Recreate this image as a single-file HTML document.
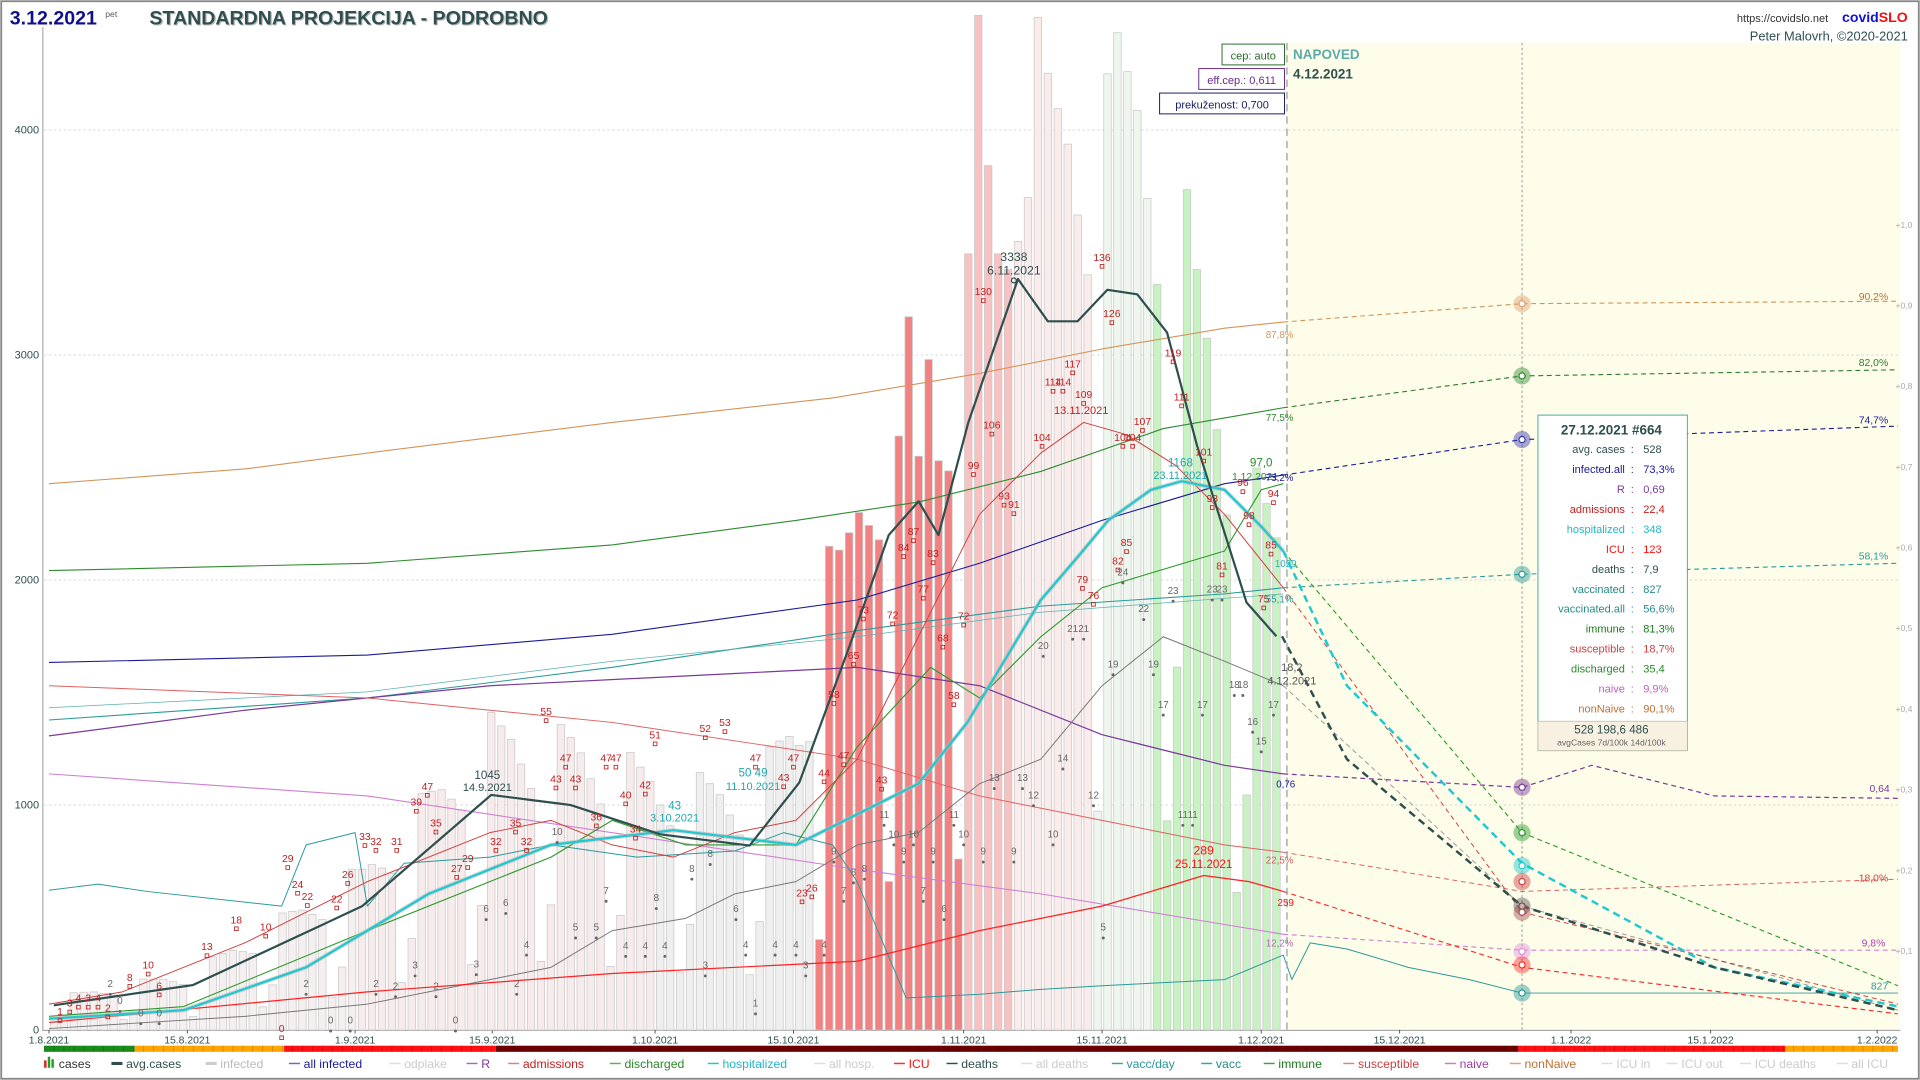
<!DOCTYPE html>
<html><head><meta charset="utf-8"><style>
html,body{margin:0;padding:0;background:#fff;width:1920px;height:1080px;overflow:hidden}
svg{display:block}
text{font-family:"Liberation Sans",sans-serif}
</style></head><body>
<svg id="s" width="1920" height="1080" viewBox="0 0 1568 882" preserveAspectRatio="none" xmlns="http://www.w3.org/2000/svg">
<rect x="0" y="0" width="1568" height="882" fill="#fff"/>
<rect x="1" y="1" width="1566" height="880" fill="none" stroke="#888" stroke-width="1.5"/>
<rect x="1051" y="35" width="501" height="806" fill="#fdfdea"/>
<g id="grid"></g>
<g id="bars"></g>
<g id="lines"></g>
<g id="marks"></g>
<g id="txt"></g>
</svg>
<script>
const NS="http://www.w3.org/2000/svg";
const S=document.getElementById('s');
function el(tag,attrs,parent,text){const e=document.createElementNS(NS,tag);for(const k in attrs)e.setAttribute(k,attrs[k]);if(text!==undefined)e.textContent=text;(parent||S).appendChild(e);return e;}
const G=id=>document.getElementById(id);
const X=d=>40+d*8.117, Y=v=>841.2-v*0.18375;
// grid
const g=G('grid');
[1000,2000,3000,4000].forEach(v=>{el('line',{x1:36,x2:1552,y1:Y(v),y2:Y(v),stroke:'#ccc','stroke-width':0.6,'stroke-dasharray':'2,2'},g);});
el('line',{x1:35,x2:35,y1:22,y2:842,stroke:'#999','stroke-width':0.8},g);
el('line',{x1:35,x2:1552,y1:841.5,y2:841.5,stroke:'#999','stroke-width':0.8},g);
[[0,'0'],[1000,'1000'],[2000,'2000'],[3000,'3000'],[4000,'4000']].forEach(([v,t])=>el('text',{x:32,y:Y(v)+3,'font-size':9,'text-anchor':'end',fill:'#2f4f4f'},g,t));
// right axis
for(let i=1;i<=10;i++){const y=842-i*65.9;el('text',{x:1548,y:y+3,'font-size':7,fill:'#aaa'},g,'+'+(i/10).toFixed(1).replace('.',','));}
// x labels
[['1.8.2021',40],['15.8.2021',153],['1.9.2021',290],['15.9.2021',402],['1.10.2021',535],['15.10.2021',648],['1.11.2021',787],['15.11.2021',900],['1.12.2021',1030],['15.12.2021',1143],['1.1.2022',1283],['15.1.2022',1397],['1.2.2022',1533]].forEach(([t,x])=>{el('text',{x:x,y:852,'font-size':8.5,'text-anchor':'middle',fill:'#2f4f4f'},g,t);el('line',{x1:x,x2:x,y1:841,y2:844,stroke:'#555','stroke-width':0.8},g);});
// color strip
[[36,110,'#1a8a1a'],[110,232,'#ffa500'],[232,405,'#ff1010'],[405,1240,'#6b0000'],[1240,1458,'#ff1010'],[1458,1550,'#ffa500']].forEach(([a,b,c])=>el('rect',{x:a,y:854,width:b-a,height:5,fill:c},g));
for(let x=36;x<1550;x+=8.117)el('line',{x1:x,x2:x,y1:854,y2:859,stroke:'rgba(0,0,0,0.25)','stroke-width':0.5},g);
// bars
const kp=[[0,110],[14,200],[31,550],[44,1045],[52,1000],[61,870],[70,820],[75,1100],[80,1700],[84,2200],[87,2350],[89,2200],[92,2700],[97,3338],[100,3150],[103,3150],[106,3290],[109,3270],[112,3100],[115,2600],[120,1900],[123,1750]];
function avg(d){for(let i=0;i<kp.length-1;i++){if(d>=kp[i][0]&&d<=kp[i+1][0]){const t=(d-kp[i][0])/(kp[i+1][0]-kp[i][0]);return kp[i][1]+t*(kp[i+1][1]-kp[i][1]);}}return kp[kp.length-1][1];}
const f=[0.3,0.55,1.35,1.3,1.25,1.15,1.05];
const over={93:4510,99:4500,106:4250,86:3170,88:2980,85:2640,87:2550,78:2150,81:2300,92:3450,95:3450,96:3380,98:3700};
function col(d){if(d<=30)return '#f6efef';if(d<=60)return '#f7ebeb';if(d<=76)return '#efefef';if(d<=91)return '#f28282';if(d<=96)return '#f9c2c2';if(d<=104)return '#fbecec';if(d<=110)return '#eef6ee';return '#c9f2c2';}
const b=G('bars');
for(let d=0;d<124;d++){let v=over[d]!==undefined?over[d]:avg(d)*f[d%7];const x=X(d)+1,y=Y(v);el('rect',{x:x,y:y,width:6.1,height:841.2-y,fill:col(d),stroke:'#c8c8c8','stroke-width':0.6},b);}
// lines
const L=G('lines');
function pl(p,c,w,dash,op){const a={points:p.map(q=>q.join(',')).join(' '),fill:'none',stroke:c,'stroke-width':w,'stroke-linejoin':'round'};if(dash)a['stroke-dasharray']=dash;if(op)a.opacity=op;el('polyline',a,L);}
// nonNaive
pl([[40,395],[200,383],[300,370],[500,345],[680,325],[800,305],[900,285],[1000,268],[1048,263]],'#d2955a',0.9);
pl([[1048,263],[1243,248],[1550,246]],'#d2955a',0.9,'4,3');
// immune
pl([[40,466],[300,460],[500,445],[650,425],[750,410],[850,385],[950,350],[1048,333]],'#2e8b2e',0.9);
pl([[1048,333],[1243,307],[1550,302]],'#2e7b2e',0.9,'4,3');
// all infected
pl([[40,541],[300,535],[500,518],[700,490],[800,460],[900,425],[1000,395],[1048,388]],'#1a1a9a',0.9);
pl([[1048,388],[1243,359],[1550,348]],'#1a1a9a',0.9,'4,3');
// vacc teal
pl([[40,588],[300,570],[500,545],[700,515],[850,495],[1000,485],[1048,480]],'#2a9a9a',0.9);
pl([[40,578],[300,565],[500,540],[700,520],[850,500],[1048,485]],'#5ab0b0',0.6);
pl([[1048,480],[1243,469],[1550,460]],'#2a9a9a',0.9,'4,3');
// R
pl([[40,601],[200,580],[400,560],[600,550],[700,545],[800,560],[900,600],[1000,625],[1048,632]],'#7a3a9a',1);
pl([[1048,632],[1243,643],[1300,625],[1400,650],[1550,652]],'#7a3a9a',1,'4,3');
// susceptible
pl([[40,560],[300,570],[500,590],[700,620],[800,650],[900,670],[1000,690],[1048,696]],'#e06060',0.8);
pl([[1048,696],[1243,728],[1550,718]],'#e06060',0.8,'4,3');
// naive
pl([[40,632],[300,650],[500,680],[700,710],[850,730],[1000,755],[1048,763]],'#d080d0',0.9);
pl([[1048,763],[1243,776],[1550,776]],'#d080d0',0.9,'4,3');
// vacc/day
pl([[40,727],[80,722],[120,728],[230,740],[250,690],[290,680],[300,740],[330,705],[400,700],[450,690],[520,700],[600,695],[640,680],[680,690],[700,720],[740,815],[800,812],[850,808],[900,805],[1000,800],[1048,780],[1055,800],[1070,770],[1100,775],[1150,790],[1200,800],[1243,811],[1550,811]],'#2a9a9a',0.8);
// deaths grey
pl([[40,840],[200,830],[300,820],[400,800],[450,790],[500,760],[560,750],[600,730],[650,720],[700,690],[750,680],[800,640],[850,620],[900,560],[950,520],[1000,540],[1048,560]],'#777',0.8);
pl([[1048,560],[1243,740],[1550,825]],'#999',0.8,'4,3');
// ICU
pl([[40,835],[300,810],[500,795],[700,785],[800,760],[900,740],[950,725],[983,715],[1020,720],[1048,728]],'#ff2020',1);
pl([[1048,728],[1243,790],[1550,828]],'#ff2020',0.9,'4,3');
// discharged
pl([[40,830],[150,822],[300,760],[400,720],[450,700],[500,670],[560,690],[650,690],[700,610],[760,545],[800,570],[850,520],[900,480],[950,465],[1000,450],[1030,400],[1048,395]],'#2a9a2a',0.9);
pl([[1048,450],[1243,680],[1550,805]],'#2a9a2a',0.9,'4,3');
// admissions
pl([[40,820],[100,810],[200,770],[300,720],[400,680],[450,670],[500,690],[550,700],[600,680],[650,670],[700,620],[750,520],[800,420],[850,370],[885,345],[920,355],[960,380],[1000,420],[1048,480]],'#d04040',0.8);
pl([[1048,480],[1243,745],[1550,820]],'#d04040',0.8,'4,3');
// hospitalized
const hosp=[[40,832],[150,825],[250,790],[350,730],[450,690],[550,678],[650,690],[700,665],[750,640],[790,590],[820,540],[850,490],[880,455],[905,425],[940,400],[965,393],[1000,400],[1030,430],[1048,450]];
pl(hosp,'#bbb',3.5,null,0.6);pl(hosp,'#20c8d0',1.8);
pl([[1048,450],[1100,560],[1243,705],[1400,790],[1550,822]],'#20c8d0',2,'6,4');
// avg cases
const ac=[];for(let d=0;d<=123;d++)ac.push([X(d)+4,Y(avg(d))]);
pl(ac,'#2f4f4f',1.8);
pl([[1047,Y(1750)],[1100,620],[1243,740],[1400,790],[1550,825]],'#2f4f4f',2,'6,4');
// today line & forecast marker
el('line',{x1:1051,x2:1051,y1:35,y2:841,stroke:'#aaa','stroke-width':1.2,'stroke-dasharray':'6,4'},L);
el('line',{x1:1243,x2:1243,y1:35,y2:841,stroke:'#777','stroke-width':0.6,'stroke-dasharray':'2,2'},L);
// circles
const M=G('marks');
[[248,'#e0a070'],[307,'#2e8b2e'],[359,'#3a3aaa'],[469,'#2a9a9a'],[643,'#7a3a9a'],[680,'#2a9a2a'],[707,'#20c8d0'],[720,'#d04040'],[740,'#555'],[745,'#a05050'],[777,'#e090e0'],[788,'#ff3030'],[811,'#2a9a9a']].forEach(([y,c])=>{el('circle',{cx:1243,cy:y,r:7,fill:c,opacity:0.45},M);el('circle',{cx:1243,cy:y,r:2.5,fill:'#fff',stroke:c,'stroke-width':1},M);});
// text
const T=G('txt');
function t(x,y,s,c,sz,anchor,w){const a={x:x,y:y,'font-size':sz||9,fill:c||'#333'};if(anchor)a['text-anchor']=anchor;if(w)a['font-weight']=w;return el('text',a,T,s);}
// admission labels
[[49,829,'1'],[57,822,'3'],[64,818,'4'],[72,818,'3'],[80,818,'4'],[88,826,'2'],[106,801,'8'],[121,791,'10'],[130,808,'6'],[169,776,'13'],[193,754,'18'],[217,760,'10'],[235,704,'29'],[243,725,'24'],[251,735,'22'],[275,737,'22'],[284,717,'26'],[298,686,'33'],[307,690,'32'],[324,690,'31'],[340,658,'39'],[349,645,'47'],[356,675,'35'],[373,712,'27'],[382,704,'29'],[405,690,'32'],[421,675,'35'],[430,690,'32'],[446,584,'55'],[454,639,'43'],[462,622,'47'],[470,639,'43'],[487,670,'36'],[495,622,'47'],[503,622,'47'],[511,652,'40'],[527,644,'42'],[519,680,'34'],[535,603,'51'],[576,598,'52'],[592,593,'53'],[617,622,'47'],[648,622,'47'],[640,638,'43'],[673,634,'44'],[689,620,'47'],[681,570,'58'],[697,538,'65'],[705,501,'73'],[729,505,'72'],[746,437,'87'],[738,450,'84'],[762,455,'83'],[754,484,'77'],[770,524,'68'],[779,571,'58'],[787,506,'72'],[795,383,'99'],[810,350,'106'],[820,408,'93'],[828,415,'91'],[851,360,'104'],[860,315,'114'],[868,315,'114'],[876,300,'117'],[885,325,'109'],[900,213,'136'],[908,259,'126'],[917,360,'104'],[925,360,'104'],[933,347,'107'],[958,291,'119'],[965,327,'111'],[983,372,'101'],[990,410,'93'],[1015,397,'96'],[1020,424,'98'],[1038,448,'85'],[1032,492,'75'],[1040,406,'94'],[803,241,'130'],[920,446,'85'],[913,461,'82'],[884,476,'79'],[893,489,'76'],[998,465,'81'],[720,640,'43'],[663,728,'26'],[655,732,'23'],[230,843,'0']].forEach(([x,y,s])=>{t(x,y,s,'#c02020',8.5,'middle');el('rect',{x:x-1.5,y:y+3,width:3,height:3,fill:'none',stroke:'#c02020','stroke-width':0.7},T);});
// deaths labels
[[90,806,'2'],[98,820,'0'],[115,830,'0'],[130,830,'0'],[250,806,'2'],[270,836,'0'],[286,836,'0'],[307,806,'2'],[323,808,'2'],[339,791,'3'],[356,808,'2'],[372,836,'0'],[389,790,'3'],[397,745,'6'],[413,740,'6'],[422,806,'2'],[430,774,'4'],[455,682,'10'],[470,760,'5'],[487,760,'5'],[495,730,'7'],[511,775,'4'],[527,775,'4'],[543,775,'4'],[576,791,'3'],[601,745,'6'],[609,774,'4'],[617,822,'1'],[633,774,'4'],[650,774,'4'],[658,791,'3'],[673,774,'4'],[681,698,'9'],[689,730,'7'],[697,715,'8'],[722,668,'11'],[730,684,'10'],[738,698,'9'],[746,684,'10'],[754,730,'7'],[762,698,'9'],[771,745,'6'],[779,668,'11'],[787,684,'10'],[803,698,'9'],[812,638,'13'],[828,698,'9'],[835,638,'13'],[844,652,'12'],[852,530,'20'],[860,684,'10'],[868,622,'14'],[876,516,'21'],[885,516,'21'],[893,652,'12'],[901,760,'5'],[909,545,'19'],[917,470,'24'],[934,500,'22'],[942,545,'19'],[950,578,'17'],[958,485,'23'],[966,668,'11'],[974,668,'11'],[982,578,'17'],[990,484,'23'],[998,484,'23'],[1008,562,'18'],[1015,562,'18'],[1023,592,'16'],[1030,608,'15'],[1040,578,'17'],[580,700,'8'],[565,712,'8'],[536,736,'8'],[706,712,'8']].forEach(([x,y,s])=>{t(x,y,s,'#666',8,'middle');el('circle',{cx:x,cy:y+6,r:1.2,fill:'#666'},T);});
// annotations
t(398,636,'1045','#2f4f4f',9.5,'middle');t(398,646,'14.9.2021','#2f4f4f',9,'middle');
t(828,213,'3338','#2f4f4f',10,'middle');t(828,224,'6.11.2021','#2f4f4f',10,'middle');
el('circle',{cx:828,cy:229,r:2,fill:'none',stroke:'#2f4f4f'},T);
t(883,338,'13.11.2021','#c02020',9,'middle');
t(964,381,'1168','#20a8b0',9.5,'middle');t(964,391,'23.11.2021','#20a8b0',9,'middle');
t(615,634,'50 49','#20a8b0',9.5,'middle');t(615,645,'11.10.2021','#20a8b0',9,'middle');
t(551,661,'43','#20a8b0',9.5,'middle');t(551,671,'3.10.2021','#20a8b0',9,'middle');
t(983,698,'289','#ff1010',10,'middle');t(983,709,'25.11.2021','#ff1010',9.5,'middle');
t(1055,548,'18,2','#555',9,'middle');t(1055,559,'4.12.2021','#555',9,'middle');
t(1030,381,'97,0','#2a8a2a',9.5,'middle');t(1025,392,'1.12.2021','#2a8a2a',8.5,'middle');
[[1045,276,'87,8%','#d2955a'],[1045,344,'77,5%','#2e8b2e'],[1045,393,'73,2%','#1a1a9a'],[1045,492,'55,1%','#2a9a9a'],[1050,463,'1029','#20b8c0'],[1050,643,'0,76','#1a1a9a'],[1045,705,'22,5%','#d06060'],[1050,740,'259','#ff1010'],[1045,773,'12,2%','#b070b0']].forEach(([x,y,s,c])=>t(x,y,s,c,8,'middle'));
[[1530,245,'90,2%','#c07030'],[1530,299,'82,0%','#2e7b2e'],[1530,346,'74,7%','#1a1a9a'],[1530,457,'58,1%','#2a9a9a'],[1535,647,'0,64','#7a3a9a'],[1530,720,'18,0%','#d04040'],[1530,773,'9,8%','#b040b0'],[1535,808,'827','#2a9a9a']].forEach(([x,y,s,c])=>t(x,y,s,c,8.5,'middle'));
// top boxes
function box(x,y,w,h,s,c){el('rect',{x:x,y:y,width:w,height:h,fill:'#fff',stroke:c,'stroke-width':0.8},T);t(x+w/2,y+h-4.5,s,c,9,'middle');}
box(998,36,51,17,'cep: auto','#2a6a2a');box(979,56,70,17,'eff.cep.: 0,611','#6a2a8a');box(947,76,102,17,'prekuženost: 0,700','#1a1a6a');
t(1056,48,'NAPOVED','#5aabab',11,null,'bold');t(1056,64,'4.12.2021','#2f4f4f',11,null,'bold');
// title
t(8,20,'3.12.2021','#10108a',16,null,'bold');t(86,14,'pet','#555',7);
t(123,21,'STANDARDNA PROJEKCIJA - PODROBNO','#bbb',16,null,'bold');
t(122,20,'STANDARDNA PROJEKCIJA - PODROBNO','#2f4f4f',16,null,'bold');
t(1493,18,'https://covidslo.net','#333',9,'end');
const cs=t(1558,18,'','#00f',11.5,'end','bold');const ts1=el('tspan',{fill:'#1010e0'},cs,'covid');el('tspan',{fill:'#f01010'},cs,'SLO');
t(1558,33,'Peter Malovrh, ©2020-2021','#2f4f4f',10.5,'end');
// info box
el('rect',{x:1256,y:339,width:122,height:274,fill:'#fff',stroke:'#4aa','stroke-width':0.8},T);
t(1316,355,'27.12.2021 #664','#2f4f4f',11,'middle','bold');
[['avg. cases','528','#2f4f4f'],['infected.all','73,3%','#1a1a9a'],['R','0,69','#7a3a9a'],['admissions','22,4','#c02020'],['hospitalized','348','#20b8c8'],['ICU','123','#ff1010'],['deaths','7,9','#2f4f4f'],['vaccinated','827','#2a8a8a'],['vaccinated.all','56,6%','#2a8a8a'],['immune','81,3%','#1a7a1a'],['susceptible','18,7%','#d04040'],['discharged','35,4','#2a8a2a'],['naive','9,9%','#c060c0'],['nonNaive','90,1%','#c07030']].forEach(([a,v,c],i)=>{const y=370+i*16.3;t(1327,y,a,c,9,'end');t(1333,y,':',c,9,'middle');t(1342,y,v,c,9);});
el('rect',{x:1256,y:589,width:122,height:24,fill:'#f8f0e0',stroke:'#bba','stroke-width':0.6},T);
t(1316,599,'528   198,6   486','#2f4f4f',9.5,'middle');t(1316,609,'avgCases 7d/100k 14d/100k','#666',7,'middle');
// legend
const lg=[['cases','#333',48],['avg.cases','#2f4f4f',103],['infected','#bbb',180],['all infected','#1a1a9a',248],['odplake','#ccc',330],['R','#7a3a9a',393],['admissions','#c02020',427],['discharged','#2a8a2a',510],['hospitalized','#20b8c8',590],['all hosp.','#ccc',677],['ICU','#ff1010',742],['deaths','#2f4f4f',785],['all deaths','#ccc',846],['vacc/day','#2a9a9a',920],['vacc','#2a8a8a',993],['immune','#1a7a1a',1044],['susceptible','#d04040',1109],['naive','#a040a0',1192],['nonNaive','#c07030',1245],['ICU in','#ccc',1320],['ICU out','#ccc',1373],['ICU deaths','#ccc',1433],['all ICU','#ccc',1512]];
const lc={'cases':null,'avg.cases':'#2f4f4f','infected':'#ccc','all infected':'#6a6ac0','odplake':'#ddd','R':'#a070c0','admissions':'#e08080','discharged':'#60b060','hospitalized':'#20c8d0','all hosp.':'#ddd','ICU':'#ff3030','deaths':'#2f4f4f','all deaths':'#ddd','vacc/day':'#40a0a0','vacc':'#40a0a0','immune':'#40a040','susceptible':'#e08080','naive':'#c080c0','nonNaive':'#e0a070','ICU in':'#ddd','ICU out':'#ddd','ICU deaths':'#ddd','all ICU':'#ddd'};
lg.forEach(([s,c,x])=>{t(x,872,s,c,10);if(lc[s])el('line',{x1:x-12,x2:x-3,y1:868.5,y2:868.5,stroke:lc[s],'stroke-width':(s=='avg.cases'||s=='infected')?2.5:1.2},T);});
el('rect',{x:36,y:866,width:2,height:6,fill:'#e02020'},T);el('rect',{x:39,y:863,width:2,height:9,fill:'#20a020'},T);el('rect',{x:42,y:865,width:2,height:7,fill:'#20a020'},T);
</script>
</body></html>
